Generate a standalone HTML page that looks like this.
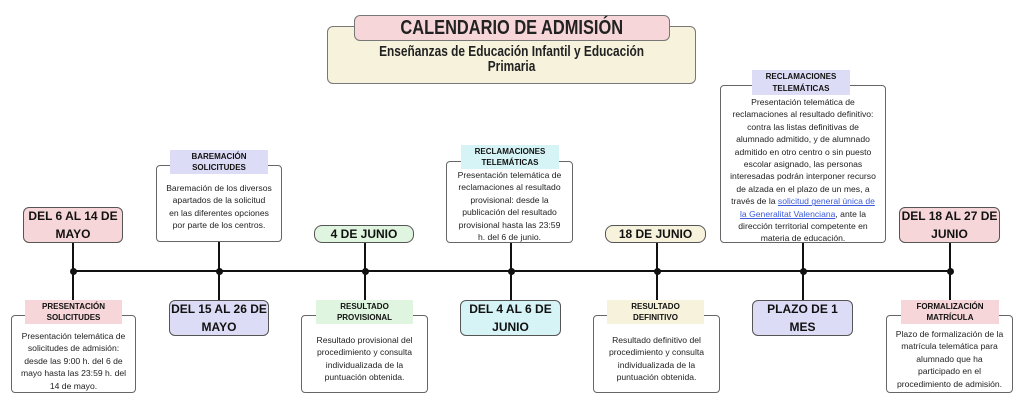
<!DOCTYPE html>
<html><head><meta charset="utf-8"><style>
*{margin:0;padding:0;box-sizing:border-box}
body{width:1024px;height:410px;background:#fff;position:relative;overflow:hidden;font-family:"Liberation Sans",sans-serif;color:#222}
.a{position:absolute}
.date{position:absolute;border:1px solid #555;border-radius:6px;font-weight:bold;font-size:12px;line-height:18px;text-align:center;display:flex;align-items:center;justify-content:center;color:#111;white-space:nowrap}
.box{position:absolute;border:1px solid #666;border-radius:4px;background:#fff;font-size:8.6px;line-height:12.4px;text-align:center;white-space:nowrap}
.lab{position:absolute;font-weight:bold;font-size:8px;line-height:11.5px;text-align:center;display:flex;align-items:center;justify-content:center;color:#111}
.v{position:absolute;width:2px;background:#111}
.dot{position:absolute;width:7px;height:7px;border-radius:50%;background:#111}
a{color:#3b5bdb;text-decoration:underline}
</style></head><body>
<div class="a" style="left:327px;top:26px;width:369px;height:58px;background:#f6f2dc;border:1px solid #777;border-radius:6px"></div>
<div class="a" style="left:354px;top:15px;width:316px;height:26px;background:#f6d6d8;border:1px solid #777;border-radius:6px;text-align:center;font-weight:bold;font-size:20px;line-height:25px;"><span style="display:inline-block;transform:scaleX(0.82)">CALENDARIO DE ADMISIÓN</span></div>
<div class="a" style="left:327px;top:45px;width:369px;text-align:center;font-weight:bold;font-size:14.5px;line-height:15px"><span style="display:inline-block;transform:scaleX(0.82)">Enseñanzas de Educación Infantil y Educación<br>Primaria</span></div>

<div class="a" style="left:73px;top:270px;width:878px;height:2px;background:#111"></div>

<div class="v" style="left:72px;top:243px;height:57px"></div>
<div class="v" style="left:218px;top:242px;height:58px"></div>
<div class="v" style="left:364px;top:243px;height:57px"></div>
<div class="v" style="left:510px;top:243px;height:57px"></div>
<div class="v" style="left:656px;top:243px;height:57px"></div>
<div class="v" style="left:802px;top:243px;height:57px"></div>
<div class="v" style="left:949px;top:243px;height:57px"></div>
<div class="dot" style="left:70px;top:268px"></div>
<div class="dot" style="left:216px;top:268px"></div>
<div class="dot" style="left:362px;top:268px"></div>
<div class="dot" style="left:508px;top:268px"></div>
<div class="dot" style="left:654px;top:268px"></div>
<div class="dot" style="left:800px;top:268px"></div>
<div class="dot" style="left:947px;top:268px"></div>

<div class="date" style="left:23px;top:207px;width:100px;height:36px;background:#f6d6d8">DEL 6 AL 14 DE<br>MAYO</div>
<div class="date" style="left:314px;top:225px;width:100px;height:18px;background:#dff5df;border-radius:8px">4 DE JUNIO</div>
<div class="date" style="left:605px;top:225px;width:101px;height:18px;background:#f6f2dc;border-radius:8px">18 DE JUNIO</div>
<div class="date" style="left:899px;top:207px;width:101px;height:36px;background:#f6d6d8">DEL 18 AL 27 DE<br>JUNIO</div>
<div class="date" style="left:169px;top:300px;width:100px;height:36px;background:#dcdcf6">DEL 15 AL 26 DE<br>MAYO</div>
<div class="date" style="left:460px;top:300px;width:101px;height:36px;background:#d6f4f6">DEL 4 AL 6 DE<br>JUNIO</div>
<div class="date" style="left:752px;top:300px;width:101px;height:36px;background:#dcdcf6">PLAZO DE 1<br>MES</div>

<div class="box" style="left:156px;top:165px;width:126px;height:77px;padding-top:16px">Baremación de los diversos<br>apartados de la solicitud<br>en las diferentes opciones<br>por parte de los centros.</div>
<div class="lab" style="left:170px;top:150px;width:98px;height:24px;background:#dcdcf6">BAREMACIÓN<br>SOLICITUDES</div>

<div class="box" style="left:446px;top:161px;width:127px;height:82px;padding-top:7px">Presentación telemática de<br>reclamaciones al resultado<br>provisional: desde la<br>publicación del resultado<br>provisional hasta las 23:59<br>h. del 6 de junio.</div>
<div class="lab" style="left:461px;top:145px;width:98px;height:24px;background:#d6f4f6">RECLAMACIONES<br>TELEMÁTICAS</div>

<div class="box" style="left:720px;top:85px;width:166px;height:158px;padding-top:10px">Presentación telemática de<br>reclamaciones al resultado definitivo:<br>contra las listas definitivas de<br>alumnado admitido, y de alumnado<br>admitido en otro centro o sin puesto<br>escolar asignado, las personas<br>interesadas podrán interponer recurso<br>de alzada en el plazo de un mes, a<br>través de la <a>solicitud general única de</a><br><a>la Generalitat Valenciana</a>, ante la<br>dirección territorial competente en<br>materia de educación.</div>
<div class="lab" style="left:752px;top:70px;width:98px;height:25px;background:#dcdcf6">RECLAMACIONES<br>TELEMÁTICAS</div>

<div class="box" style="left:11px;top:315px;width:125px;height:78px;padding-top:14px">Presentación telemática de<br>solicitudes de admisión:<br>desde las 9:00 h. del 6 de<br>mayo hasta las 23:59 h. del<br>14 de mayo.</div>
<div class="lab" style="left:25px;top:300px;width:97px;height:24px;background:#f6d6d8">PRESENTACIÓN<br>SOLICITUDES</div>

<div class="box" style="left:301px;top:315px;width:127px;height:78px;padding-top:18px">Resultado provisional del<br>procedimiento y consulta<br>individualizada de la<br>puntuación obtenida.</div>
<div class="lab" style="left:316px;top:300px;width:97px;height:24px;background:#dff5df">RESULTADO<br>PROVISIONAL</div>

<div class="box" style="left:593px;top:315px;width:127px;height:78px;padding-top:18px">Resultado definitivo del<br>procedimiento y consulta<br>individualizada de la<br>puntuación obtenida.</div>
<div class="lab" style="left:607px;top:300px;width:97px;height:24px;background:#f6f2dc">RESULTADO<br>DEFINITIVO</div>

<div class="box" style="left:886px;top:315px;width:127px;height:78px;padding-top:12px">Plazo de formalización de la<br>matrícula telemática para<br>alumnado que ha<br>participado en el<br>procedimiento de admisión.</div>
<div class="lab" style="left:901px;top:300px;width:98px;height:24px;background:#f6d6d8">FORMALIZACIÓN<br>MATRÍCULA</div>
</body></html>
